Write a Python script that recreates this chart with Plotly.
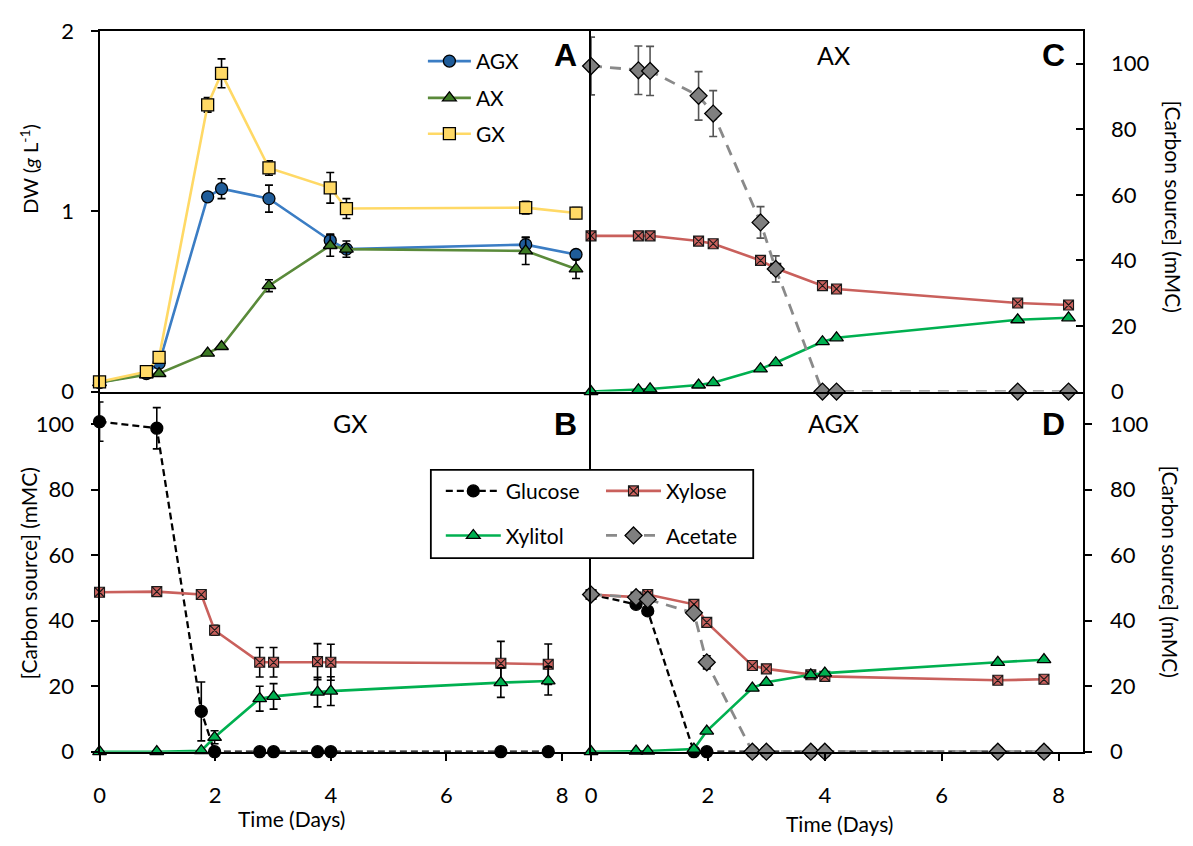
import plotly.graph_objects as go

W, H = 1193, 846

# ---------------- data ----------------
# Panel A: dry weight (g/L)
t_A = [0, 0.81, 1.03, 1.87, 2.11, 2.93, 3.99, 4.27, 7.37, 8.24]
dw_AGX = [0.05, 0.10, 0.156, 1.08, 1.125, 1.07, 0.838, 0.79, 0.815, 0.76]
err_AGX = [None, None, None, 0.02, 0.055, 0.075, 0.035, None, 0.04, None]
dw_AX = [0.05, 0.093, 0.10, 0.213, 0.25, 0.587, 0.81, 0.79, 0.78, 0.68]
err_AX = [None, None, None, None, None, 0.033, 0.06, 0.045, 0.075, 0.053]
dw_GX = [0.054, 0.11, 0.19, 1.59, 1.765, 1.24, 1.13, 1.015, 1.02, 0.99]
err_GX = [0.01, 0.01, None, 0.04, 0.08, 0.04, 0.085, 0.055, 0.035, 0.03]

# Panel C: AX
t_C = [0, 0.81, 1.01, 1.84, 2.09, 2.90, 3.16, 3.96, 4.20, 7.30, 8.17]
ace_C = [99.3, 98.0, 97.8, 90.2, 84.8, 51.6, 37.4, 0, 0, 0, 0]
ace_C_err = [8.8, 7.4, 7.5, 7.4, 7.0, 4.8, 4.0, None, None, None, None]
xyl_C = [47.5, 47.5, 47.5, 45.9, 45.1, 40.0, 37.6, 32.3, 31.3, 27.0, 26.4]
xol_C = [0, 0.5, 0.8, 2.0, 2.7, 6.9, 8.8, 15.2, 16.4, 21.9, 22.5]

# Panel B: GX
t_B = [0, 0.99, 1.76, 1.99, 2.77, 3.01, 3.77, 4.0, 6.94, 7.76]
glc_B = [100.8, 98.8, 12.3, 0, 0, 0, 0, 0, 0, 0]
glc_B_err = [6, 6.3, 9, None, None, None, None, None, None, None]
xyl_B = [48.7, 48.9, 48.0, 37.1, 27.3, 27.3, 27.5, 27.3, 27.0, 26.7]
xyl_B_err = [None, None, None, 1.5, 4.5, 4.5, 5.5, 5.5, 6.7, 6.2]
xol_B = [0, 0, 0.3, 4.4, 16.2, 16.9, 18.2, 18.5, 21.1, 21.6]
xol_B_err = [None, None, None, 2.0, 3.8, 3.9, 4.5, 4.4, 4.5, 4.3]

# Panel D: AGX
t_D = [0, 0.77, 0.97, 1.76, 1.98, 2.76, 3.0, 3.76, 4.0, 6.96, 7.75]
glc_D = [48.0, 45.0, 43.0, 0, 0, 0, 0, 0, 0, 0, 0]
xyl_D = [48.0, 47.2, 48.0, 45.0, 39.5, 26.3, 25.3, 23.5, 23.0, 21.8, 22.1]
xol_D = [0, 0.2, 0.2, 0.8, 6.3, 19.4, 21.2, 23.5, 24.0, 27.3, 28.1]
ace_D = [48.0, 47.2, 46.5, 42.4, 27.3, 0, 0, 0, 0, 0, 0]
ace_D_err = [None, None, None, None, 2.0, None, None, None, None, None, None]

x_ticks = [0, 2, 4, 6, 8]
c_ticks = [0, 20, 40, 60, 80, 100]
dw_ticks = [0, 1, 2]

# ---------------- styles ----------------
FONT = "Lato"
C_AGX_L, C_AGX_M = "#3B7DC4", "#1F5C99"
C_AX_L, C_AX_M = "#5A8A3A", "#3C7A24"
C_GX = "#FFD966"
C_XYL = "#C9605C"
C_XOL = "#00B050"
C_ACE = "#8A8A8A"


def px_x(p):
    return p / W


def px_y(p):
    return 1 - p / H


def err(arr, color="black"):
    return dict(type="data", array=arr, color=color, thickness=1.6, width=4, visible=True)


fig = go.Figure()


def add(x, y, xa, ya, name, lc, mc, symbol, size, dash=None, e=None, ecolor="black",
        legend=None, show=False, lw=2.6, mlc="black", mlw=1.3):
    fig.add_trace(go.Scatter(
        x=x, y=y, xaxis=xa, yaxis=ya, name=name, mode="lines+markers",
        line=dict(color=lc, width=lw, dash=dash),
        marker=dict(color=mc, symbol=symbol, size=size, line=dict(color=mlc, width=mlw)),
        error_y=err(e, ecolor) if e is not None else None,
        showlegend=show, legend=legend, cliponaxis=False,
    ))


# Panel A
add(t_A, dw_AGX, "x", "y", "AGX", C_AGX_L, C_AGX_M, "circle", 12, e=err_AGX, legend="legend", show=True)
add(t_A, dw_AX, "x", "y", "AX", C_AX_L, C_AX_M, "triangle-up", 12, e=err_AX, legend="legend2", show=True)
add(t_A, dw_GX, "x", "y", "GX", C_GX, C_GX, "square", 12, e=err_GX, legend="legend3", show=True)

GLC_DASH = "7px,4px"
ACE_DASH = "11px,8px"
XMK = dict(mlc="#1a1a1a", mlw=1.1)

# Panel B (GX)
add(t_B, glc_B, "x3", "y3", "Glucose", "black", "black", "circle", 12, dash=GLC_DASH, e=glc_B_err,
    legend="legend4", show=True, lw=2.3)
add(t_B, xyl_B, "x3", "y3", "Xylose", C_XYL, C_XYL, "square-x", 10, e=xyl_B_err, legend="legend5",
    show=True, **XMK)
add(t_B, xol_B, "x3", "y3", "Xylitol", C_XOL, C_XOL, "triangle-up", 12, e=xol_B_err, legend="legend6", show=True)

# Panel C (AX)
add(t_C, xyl_C, "x2", "y2", "Xylose", C_XYL, C_XYL, "square-x", 10, **XMK)
add(t_C, xol_C, "x2", "y2", "Xylitol", C_XOL, C_XOL, "triangle-up", 12)
add(t_C, ace_C, "x2", "y2", "Acetate", C_ACE, "#7F7F7F", "diamond", 13, dash=ACE_DASH, e=ace_C_err,
    ecolor="#555555", legend="legend7", show=True, lw=2.8)

# Panel D (AGX)
add(t_D, glc_D, "x4", "y4", "Glucose", "black", "black", "circle", 12, dash=GLC_DASH, lw=2.3)
add(t_D, xyl_D, "x4", "y4", "Xylose", C_XYL, C_XYL, "square-x", 10, **XMK)
add(t_D, xol_D, "x4", "y4", "Xylitol", C_XOL, C_XOL, "triangle-up", 12)
add(t_D, ace_D, "x4", "y4", "Acetate", C_ACE, "#7F7F7F", "diamond", 13, dash=ACE_DASH, e=ace_D_err,
    lw=2.8)

# ---------------- layout ----------------
XL = [px_x(94), px_x(588)]
XR = [px_x(588), px_x(1082)]
YT = [px_y(390), px_y(17.5)]
YB = [px_y(762), px_y(390)]

axis_common = dict(showline=True, linecolor="black", linewidth=2, showgrid=False, zeroline=False,
                   tickfont=dict(family=FONT, size=22, color="black"), ticklen=7, tickwidth=2,
                   tickcolor="black", fixedrange=True)

layout = dict(
    width=W, height=H, margin=dict(l=0, r=0, t=0, b=0),
    paper_bgcolor="white", plot_bgcolor="white",
    font=dict(family=FONT, color="black"),
    xaxis=dict(domain=XL, range=[0, 8.5], anchor="y", mirror=True, ticks="", showticklabels=False,
               **axis_common),
    yaxis=dict(domain=YT, range=[0, 2], anchor="x", mirror=False, ticks="outside", tickvals=dw_ticks,
               ticklabelstandoff=12, **axis_common),
    xaxis2=dict(domain=XR, range=[0, 8.41], anchor="y2", mirror=True, ticks="", showticklabels=False,
                **axis_common),
    yaxis2=dict(domain=YT, range=[0, 110], anchor="x2", side="right", mirror=True, ticks="inside",
                tickvals=c_ticks, ticklabelstandoff=22, **axis_common),
    xaxis3=dict(domain=XL, range=[0, 8.5], anchor="y3", mirror=False, ticks="outside", tickvals=x_ticks,
                ticklabelstandoff=16, **axis_common),
    yaxis3=dict(domain=YB, range=[0, 110], anchor="x3", mirror=False, ticks="outside", tickvals=c_ticks,
                ticklabelstandoff=12, **axis_common),
    xaxis4=dict(domain=XR, range=[0, 8.41], anchor="y4", mirror=False, ticks="outside", tickvals=x_ticks,
                ticklabelstandoff=16, **axis_common),
    yaxis4=dict(domain=YB, range=[0, 110], anchor="x4", side="right", mirror=True, ticks="outside",
                tickvals=c_ticks, ticklabelstandoff=14, **axis_common),
)

leg_font = dict(family=FONT, size=21, color="black")


def leg(x_px, y_px, iw):
    return dict(x=px_x(x_px), y=px_y(y_px), xanchor="left", yanchor="middle", bgcolor="rgba(0,0,0,0)",
                borderwidth=0, font=leg_font, itemwidth=iw, orientation="v", itemclick=False,
                itemdoubleclick=False)


layout["legend"] = leg(419, 49, 43)
layout["legend2"] = leg(419, 87, 43)
layout["legend3"] = leg(419, 124, 43)
layout["legend4"] = leg(437, 493, 55)
layout["legend5"] = leg(598, 493, 55)
layout["legend6"] = leg(437, 539, 55)
layout["legend7"] = leg(598, 539, 55)

fig.update_layout(**layout)

# legend frame for the carbon-source legend
fig.add_shape(type="rect", xref="paper", yref="paper", x0=px_x(427), x1=px_x(751), y0=px_y(562),
              y1=px_y(471), line=dict(color="black", width=1.8), fillcolor="white", layer="above")

annots = [
    ("AX", 832, 42, 25, 0), ("GX", 346, 422, 25, 0), ("AGX", 832, 422, 25, 0),
    ("Time (Days)", 287, 831, 21, 0), ("Time (Days)", 838, 836, 21, 0),
    ("DW (<i>g</i> L<sup>-1</sup>)", 23, 160, 20, -90),
    ("[Carbon source] (mMC)", 23, 578, 21, -90),
    ("[Carbon source] (mMC)", 1173, 199, 21, 90),
    ("[Carbon source] (mMC)", 1170, 576, 21, 90),
]
for text, x, y, size, ang in annots:
    fig.add_annotation(text=text, x=px_x(x), y=px_y(y), xref="paper", yref="paper", showarrow=False,
                       xanchor="center", yanchor="middle", textangle=ang,
                       font=dict(family=FONT, size=size, color="black"))

for text, x, y in [("A", 562, 42), ("C", 1053, 42), ("B", 562, 423), ("D", 1053, 423)]:
    fig.add_annotation(text="<b>%s</b>" % text, x=px_x(x), y=px_y(y), xref="paper", yref="paper",
                       showarrow=False, xanchor="center", yanchor="middle",
                       font=dict(family="Liberation Sans", size=32, color="black"))

fig.write_html("out.html")
